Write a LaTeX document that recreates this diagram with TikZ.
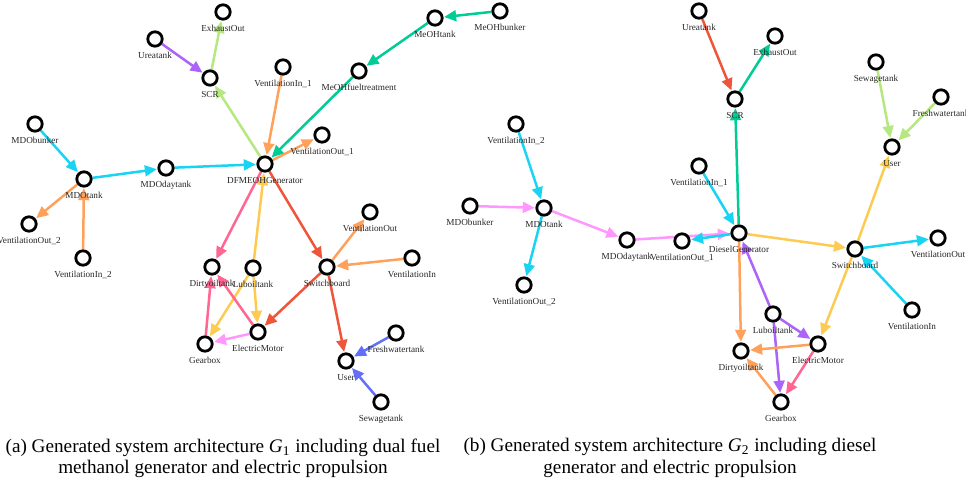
\documentclass[tikz,border=0pt]{standalone}
\usepackage{fontspec}
\setmainfont{Liberation Serif}
\usetikzlibrary{arrows.meta,backgrounds}

% edge palette
\definecolor{pBlue}{HTML}{636EFA}
\definecolor{pRed}{HTML}{EF553B}
\definecolor{pTeal}{HTML}{00CC96}
\definecolor{pPurple}{HTML}{AB63FA}
\definecolor{pOrange}{HTML}{FFA15A}
\definecolor{pCyan}{HTML}{19D3F3}
\definecolor{pPink}{HTML}{FF6692}
\definecolor{pLime}{HTML}{B6E880}
\definecolor{pMagenta}{HTML}{FF97FF}
\definecolor{pYellow}{HTML}{FECB52}

\tikzset{
  vtx/.style={circle, draw=black, fill=white, line width=1.4pt,
              minimum size=7.2pt, inner sep=0pt},
  tag/.style={font=\fontsize{4.6}{5}\selectfont, text=black!85,
              inner sep=0pt, label distance=2.2pt},
  flow/.style={line width=1.25pt, -{Triangle[length=6pt,width=5.4pt]},
               shorten >=0.3pt},
  captext/.style={font=\fontsize{9.6}{10.6}\selectfont, align=center,
                  text=black}
}

\newcommand{\vx}[4]{\node[vtx, label={[tag]below:#4}] (#1) at (#2,#3) {};}

\begin{document}
\begin{tikzpicture}[x=0.5pt, y=-0.5pt]
\useasboundingbox (0,0) rectangle (976,481);

% ---------------- (a) dual fuel methanol generator ----------------
\begin{scope}
\clip (0,0) rectangle (525,430);
\vx{aExh}{223}{12}{ExhaustOut}
\vx{aUrea}{155}{39}{Ureatank}
\vx{aSCR}{210}{78}{SCR}
\vx{aMDObunk}{35}{124}{MDObunker}
\vx{aMDOtank}{84}{179}{MDOtank}
\vx{aMDOday}{166}{168}{MDOdaytank}
\vx{aGen}{265}{164}{DFMEOHGenerator}
\vx{aVinA}{283}{67}{VentilationIn\_1}
\vx{aMeOHft}{359}{71}{MeOHfueltreatment}
\vx{aMeOHtank}{435}{18}{MeOHtank}
\vx{aMeOHbunk}{500}{11}{MeOHbunker}
\vx{aVoutA}{322}{135}{VentilationOut\_1}
\vx{aVoutB}{29}{224}{VentilationOut\_2}
\vx{aVinB}{83}{258}{VentilationIn\_2}
\vx{aDirty}{212}{267}{Dirtyoiltank}
\vx{aLube}{253}{268}{Luboiltank}
\vx{aSwitch}{327}{267}{Switchboard}
\vx{aVout}{370}{212}{VentilationOut}
\vx{aVin}{412}{258}{VentilationIn}
\vx{aGear}{205}{344}{Gearbox}
\vx{aMotor}{258}{332}{ElectricMotor}
\vx{aFresh}{396}{333}{Freshwatertank}
\vx{aUser}{346}{361}{User}
\vx{aSew}{381}{402}{Sewagetank}

\begin{scope}[on background layer]
\draw[flow, pPurple] (aUrea) -- (aSCR);
\draw[flow, pLime] (aSCR) -- (aExh);
\draw[flow, pLime] (aGen) -- (aSCR);
\draw[flow, pCyan] (aMDObunk) -- (aMDOtank);
\draw[flow, pCyan] (aMDOtank) -- (aMDOday);
\draw[flow, pCyan] (aMDOday) -- (aGen);
\draw[flow, pOrange] (aMDOtank) -- (aVoutB);
\draw[flow, pOrange] (aVinB) -- (aMDOtank);
\draw[flow, pOrange] (aVinA) -- (aGen);
\draw[flow, pOrange] (aGen) -- (aVoutA);
\draw[flow, pTeal] (aMeOHbunk) -- (aMeOHtank);
\draw[flow, pTeal] (aMeOHtank) -- (aMeOHft);
\draw[flow, pTeal] (aMeOHft) -- (aGen);
\draw[flow, pPink] (aGen) -- (aDirty);
\draw[flow, pYellow] (aLube) -- (aGen);
\draw[flow, pRed] (aGen) -- (aSwitch);
\draw[flow, pOrange] (aSwitch) -- (aVout);
\draw[flow, pOrange] (aVin) -- (aSwitch);
\draw[flow, pRed] (aSwitch) -- (aMotor);
\draw[flow, pRed] (aSwitch) -- (aUser);
\draw[flow, pYellow] (aLube) -- (aGear);
\draw[flow, pYellow] (aLube) -- (aMotor);
\draw[flow, pPink] (aGear) -- (aDirty);
\draw[flow, pPink] (aMotor) -- (aDirty);
\draw[flow, pMagenta] (aMotor) -- (aGear);
\draw[flow, pBlue] (aFresh) -- (aUser);
\draw[flow, pBlue] (aSew) -- (aUser);
\end{scope}
\end{scope}

% ---------------- (b) diesel generator ----------------
\begin{scope}
\clip (440,0) rectangle (965,430);
\vx{bUrea}{699}{11}{Ureatank}
\vx{bExh}{775}{36}{ExhaustOut}
\vx{bSCR}{735}{99}{SCR}
\vx{bSew}{876}{62}{Sewagetank}
\vx{bFresh}{941}{97}{Freshwatertank}
\vx{bUser}{892}{147}{User}
\vx{bVinA}{699}{166}{VentilationIn\_1}
\vx{bVinB}{516}{124}{VentilationIn\_2}
\vx{bMDObunk}{470}{206}{MDObunker}
\vx{bMDOtank}{544}{208}{MDOtank}
\vx{bMDOday}{627}{240}{MDOdaytank}
\vx{bVoutB}{524}{285}{VentilationOut\_2}
\vx{bVoutA}{682}{241}{VentilationOut\_1}
\vx{bGen}{739}{233}{DieselGenerator}
\vx{bSwitch}{855}{249}{Switchboard}
\vx{bVout}{938}{238}{VentilationOut}
\vx{bVin}{912}{310}{VentilationIn}
\vx{bLube}{773}{314}{Luboiltank}
\vx{bMotor}{818}{344}{ElectricMotor}
\vx{bDirty}{741}{351}{Dirtyoiltank}
\vx{bGear}{781}{402}{Gearbox}

\begin{scope}[on background layer]
\draw[flow, pRed] (bUrea) -- (bSCR);
\draw[flow, pTeal] (bSCR) -- (bExh);
\draw[flow, pTeal] (bGen) -- (bSCR);
\draw[flow, pLime] (bSew) -- (bUser);
\draw[flow, pLime] (bFresh) -- (bUser);
\draw[flow, pYellow] (bSwitch) -- (bUser);
\draw[flow, pCyan] (bVinA) -- (bGen);
\draw[flow, pCyan] (bVinB) -- (bMDOtank);
\draw[flow, pMagenta] (bMDObunk) -- (bMDOtank);
\draw[flow, pMagenta] (bMDOtank) -- (bMDOday);
\draw[flow, pMagenta] (bMDOday) -- (bGen);
\draw[flow, pCyan] (bMDOtank) -- (bVoutB);
\draw[flow, pCyan] (bGen) -- (bVoutA);
\draw[flow, pYellow] (bGen) -- (bSwitch);
\draw[flow, pCyan] (bSwitch) -- (bVout);
\draw[flow, pCyan] (bVin) -- (bSwitch);
\draw[flow, pYellow] (bSwitch) -- (bMotor);
\draw[flow, pOrange] (bGen) -- (bDirty);
\draw[flow, pPurple] (bLube) -- (bGen);
\draw[flow, pPurple] (bLube) -- (bMotor);
\draw[flow, pPurple] (bLube) -- (bGear);
\draw[flow, pOrange] (bMotor) -- (bDirty);
\draw[flow, pPink] (bMotor) -- (bGear);
\draw[flow, pOrange] (bGear) -- (bDirty);
\end{scope}
\end{scope}

% ---------------- captions ----------------
\node[captext] (capA) at (223,458)
  {(a) Generated system architecture \textit{G}\textsubscript{1} including dual fuel\\
   methanol generator and electric propulsion};
\node[captext] (capB) at (670,458)
  {(b) Generated system architecture \textit{G}\textsubscript{2} including diesel\\
   generator and electric propulsion};
\end{tikzpicture}
\end{document}
